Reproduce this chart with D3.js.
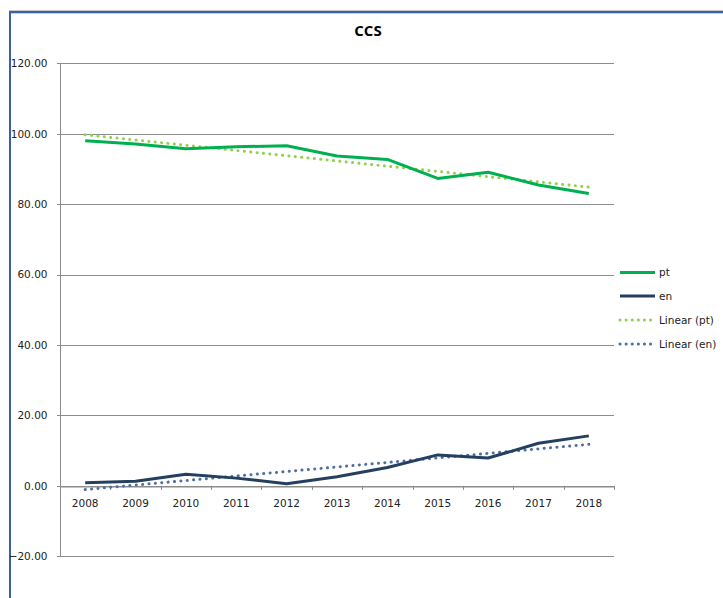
<!DOCTYPE html>
<html><head><meta charset="utf-8">
<script src="https://cdn.jsdelivr.net/npm/d3@7"></script>
<style>html,body{margin:0;padding:0;background:#fff;}svg{display:block;}</style>
</head><body>
<svg id="c" width="723" height="598"></svg>
<script>
const years = ["2008","2009","2010","2011","2012","2013","2014","2015","2016","2017","2018"];
const ptValues = [98.0, 97.1, 95.75, 96.3, 96.6, 93.7, 92.7, 87.3, 89.05, 85.45, 83.0];
const enValues = [0.9, 1.3, 3.3, 2.2, 0.6, 2.6, 5.2, 8.8, 7.9, 12.1, 14.2];
const yTicks = [-20, 0, 20, 40, 60, 80, 100, 120];
const seriesNames = ["pt", "en", "Linear (pt)", "Linear (en)"];
const colors = {pt: "#00b050", en: "#243f60", ptTrend: "#92d050", enTrend: "#4f6fa0"};

function linFit(vals) {
  const xs = vals.map((_, i) => i);
  const mx = d3.mean(xs), my = d3.mean(vals);
  let sxy = 0, sxx = 0;
  xs.forEach((x, i) => { sxy += (x - mx) * (vals[i] - my); sxx += (x - mx) * (x - mx); });
  const b = sxy / sxx, a = my - b * mx;
  return xs.map(x => a + b * x);
}

const svg = d3.select("#c");
const font = "Tahoma, 'DejaVu Sans', sans-serif";

// frame
svg.append("rect").attr("x", 9).attr("y", 10).attr("width", 714).attr("height", 1).attr("fill", "#c8c8c8");
svg.append("rect").attr("x", 9).attr("y", 11).attr("width", 714).attr("height", 2).attr("fill", "#3a5fa8");
svg.append("rect").attr("x", 11).attr("y", 13).attr("width", 712).attr("height", 1).attr("fill", "#d0d0d0");
svg.append("rect").attr("x", 9).attr("y", 11).attr("width", 2).attr("height", 587).attr("fill", "#3a5fa8");

const L = 60, R = 614;
const x = d3.scaleBand().domain(years).range([L, R]);
const y = d3.scaleLinear().domain([-20, 120]).range([556.3, 63.3]);
const cx = d => x(d) + x.bandwidth() / 2;

// title
svg.append("text").attr("x", 368).attr("y", 36).attr("text-anchor", "middle")
  .attr("font-family", "'Open Sans', sans-serif").attr("font-weight", "bold").attr("font-size", 15)
  .attr("fill", "#000").text("CCS");

// gridlines
svg.append("g").selectAll("line").data(yTicks).join("line")
  .attr("x1", L - 3).attr("x2", R).attr("y1", d => Math.round(y(d)) + 0.5).attr("y2", d => Math.round(y(d)) + 0.5)
  .attr("stroke", "#8c8c8c").attr("stroke-width", 1);

// y axis
const ya = svg.append("g").attr("transform", `translate(${L + 0.5},0)`)
  .call(d3.axisLeft(y).tickValues(yTicks).tickFormat(d3.format(".2f")).tickSize(0).tickPadding(13));
ya.select(".domain").attr("stroke", "#8c8c8c").attr("d", `M0,${Math.round(y(120))}V${Math.round(y(-20))}`);
ya.selectAll("text").attr("font-family", font).attr("font-size", 10.5).attr("fill", "#222");

// x axis at y=0
const xa = svg.append("g").attr("transform", `translate(0,${Math.round(y(0)) + 0.5})`)
  .call(d3.axisBottom(x).tickSize(0).tickPadding(13));
xa.select(".domain").attr("stroke", "#8c8c8c");
xa.selectAll("text").attr("font-family", font).attr("font-size", 10.5).attr("fill", "#222");
svg.append("g").selectAll("line").data(years.slice(1).concat(["end"])).join("line")
  .attr("x1", (d, i) => Math.round(L + x.step() * (i + 1)) + 0.5)
  .attr("x2", (d, i) => Math.round(L + x.step() * (i + 1)) + 0.5)
  .attr("y1", y(0)).attr("y2", y(0) + 4).attr("stroke", "#8c8c8c");

const line = d3.line().x((d, i) => cx(years[i])).y(d => y(d));

// trend lines (drawn under)
svg.append("path").datum(linFit(ptValues)).attr("d", line).attr("fill", "none")
  .attr("stroke", colors.ptTrend).attr("stroke-width", 3).attr("stroke-dasharray", "0.1 6.3").attr("stroke-linecap", "round");
svg.append("path").datum(linFit(enValues)).attr("d", line).attr("fill", "none")
  .attr("stroke", colors.enTrend).attr("stroke-width", 3).attr("stroke-dasharray", "0.1 6.3").attr("stroke-linecap", "round");

svg.append("path").datum(ptValues).attr("d", line).attr("fill", "none")
  .attr("stroke", colors.pt).attr("stroke-width", 3).attr("stroke-linejoin", "round");
svg.append("path").datum(enValues).attr("d", line).attr("fill", "none")
  .attr("stroke", colors.en).attr("stroke-width", 3).attr("stroke-linejoin", "round");

// legend
const legY = [272.5, 296, 320, 344];
const legStyle = [
  {c: colors.pt, dash: null, w: 3},
  {c: colors.en, dash: null, w: 3},
  {c: colors.ptTrend, dash: "0.1 6", w: 3},
  {c: colors.enTrend, dash: "0.1 6", w: 3}
];
const lg = svg.append("g");
seriesNames.forEach((n, i) => {
  const s = legStyle[i];
  lg.append("line").attr("x1", 620).attr("x2", 655).attr("y1", legY[i]).attr("y2", legY[i])
    .attr("stroke", s.c).attr("stroke-width", s.w).attr("stroke-dasharray", s.dash).attr("stroke-linecap", s.dash ? "round" : "butt");
  lg.append("text").attr("x", 659).attr("y", legY[i] + 3.5).attr("font-family", font).attr("font-size", 10.5)
    .attr("fill", "#222").text(n);
});
</script>
</body></html>
